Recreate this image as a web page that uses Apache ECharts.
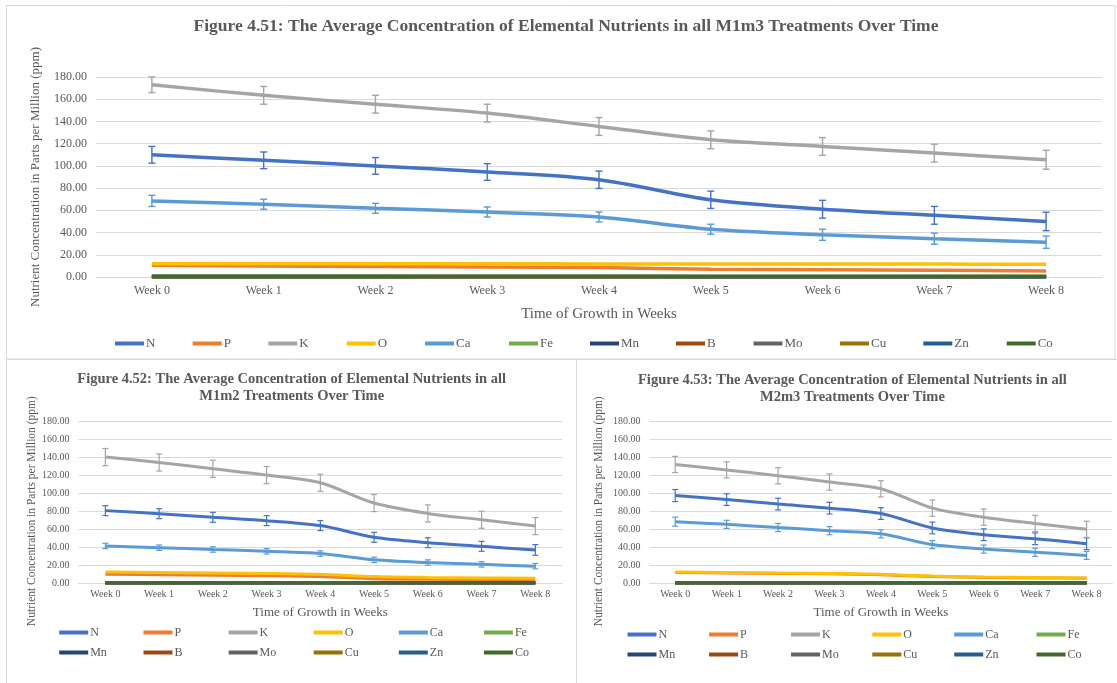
<!DOCTYPE html>
<html>
<head>
<meta charset="utf-8">
<script src="https://cdn.jsdelivr.net/npm/echarts@6/dist/echarts.min.js"></script>
<style>
html,body{margin:0;padding:0;background:#fff;}
#c{width:1117px;height:683px;}
</style>
</head>
<body>
<div id="c"></div>
<script>
// ---------- data ----------
const weeks = ['Week 0','Week 1','Week 2','Week 3','Week 4','Week 5','Week 6','Week 7','Week 8'];
const elements = ['N','P','K','O','Ca','Fe','Mn','B','Mo','Cu','Zn','Co'];
const elementColors = ['#4472C4','#ED7D31','#A5A5A5','#FFC000','#5B9BD5','#70AD47','#264478','#9E480E','#636363','#997300','#255E91','#43682B'];
const yTicks = [0,20,40,60,80,100,120,140,160,180];

// Figure 4.51 — M1m3
const m1m3N  = [110, 105, 100, 94.5, 87.5, 69.5, 61, 55.5, 50];
const m1m3P  = [10.5, 10, 9.5, 9, 8.5, 7, 6.5, 6, 5.5];
const m1m3K  = [173, 163.5, 155.5, 147.5, 135.5, 123.5, 117.5, 111.5, 105.5];
const m1m3O  = [12, 12, 12, 12, 11.8, 11.7, 11.6, 11.6, 11.5];
const m1m3Ca = [68.5, 65.5, 61.8, 58.5, 54, 43, 38, 34.5, 31.3];
const m1m3Fe = [0.6, 0.6, 0.6, 0.5, 0.5, 0.5, 0.5, 0.5, 0.5];
const m1m3Mn = [0.3, 0.3, 0.3, 0.3, 0.3, 0.2, 0.2, 0.2, 0.2];
const m1m3B  = [0.2, 0.2, 0.2, 0.2, 0.2, 0.2, 0.2, 0.2, 0.2];
const m1m3Mo = [0.1, 0.1, 0.1, 0.1, 0.1, 0.1, 0.1, 0.1, 0.1];
const m1m3Cu = [0.2, 0.2, 0.2, 0.2, 0.2, 0.2, 0.2, 0.2, 0.2];
const m1m3Zn = [0.4, 0.4, 0.4, 0.4, 0.4, 0.3, 0.3, 0.3, 0.3];
const m1m3Co = [0.6, 0.6, 0.6, 0.6, 0.6, 0.6, 0.6, 0.6, 0.6];
const m1m3ErrN  = [7.5, 7.5, 7.5, 7.5, 7.8, 7.8, 8, 8, 8.3];
const m1m3ErrK  = [7, 8, 8, 8, 8, 8, 8, 8, 8.5];
const m1m3ErrCa = [5, 4.5, 4.5, 4.5, 4.5, 4.5, 5, 5, 5.5];

// Figure 4.52 — M1m2
const m1m2N  = [80.6, 77.2, 73.2, 69.5, 64, 51, 45, 41, 37];
const m1m2P  = [10, 9.5, 9, 8.5, 7.5, 5, 4.5, 4, 3.7];
const m1m2K  = [140, 134, 127, 120, 111.5, 89, 77.5, 70.5, 63.5];
const m1m2O  = [12.5, 12, 11.5, 11, 10, 7.5, 6.5, 6, 5.5];
const m1m2Ca = [41.4, 39.5, 37.5, 35.5, 33, 26, 23, 21, 19];
const m1m2Fe = [0.5, 0.5, 0.5, 0.5, 0.5, 0.4, 0.4, 0.4, 0.4];
const m1m2Mn = [0.3, 0.3, 0.3, 0.3, 0.3, 0.2, 0.2, 0.2, 0.2];
const m1m2B  = [0.2, 0.2, 0.2, 0.2, 0.2, 0.2, 0.2, 0.2, 0.2];
const m1m2Mo = [0.1, 0.1, 0.1, 0.1, 0.1, 0.1, 0.1, 0.1, 0.1];
const m1m2Cu = [0.2, 0.2, 0.2, 0.2, 0.2, 0.2, 0.2, 0.2, 0.2];
const m1m2Zn = [0.3, 0.3, 0.3, 0.3, 0.3, 0.3, 0.3, 0.3, 0.3];
const m1m2Co = [0.5, 0.5, 0.5, 0.5, 0.5, 0.5, 0.5, 0.5, 0.5];
const m1m2ErrN  = [5.5, 5.5, 5.5, 5.5, 5.5, 5.5, 5.5, 5.5, 5.9];
const m1m2ErrK  = [9.5, 9.5, 9.5, 9.5, 9.5, 9.5, 9.5, 9.5, 9.5];
const m1m2ErrCa = [3, 3, 3, 3, 3, 3, 3, 3, 3];

// Figure 4.53 — M2m3
const m2m3N  = [97.5, 93, 88, 83.5, 77.5, 61.5, 54, 49.5, 44];
const m2m3P  = [12, 11.5, 11, 10.5, 9.5, 7.5, 6.5, 6, 5.5];
const m2m3K  = [132, 126, 119.5, 112.5, 105, 83.5, 73.5, 66.5, 60];
const m2m3O  = [12.5, 12, 11.5, 11, 10, 8, 7, 6.5, 6];
const m2m3Ca = [68.5, 65.5, 62, 58.5, 55, 43, 38, 34.5, 31];
const m2m3Fe = [0.5, 0.5, 0.5, 0.5, 0.5, 0.4, 0.4, 0.4, 0.4];
const m2m3Mn = [0.3, 0.3, 0.3, 0.3, 0.3, 0.2, 0.2, 0.2, 0.2];
const m2m3B  = [0.2, 0.2, 0.2, 0.2, 0.2, 0.2, 0.2, 0.2, 0.2];
const m2m3Mo = [0.1, 0.1, 0.1, 0.1, 0.1, 0.1, 0.1, 0.1, 0.1];
const m2m3Cu = [0.2, 0.2, 0.2, 0.2, 0.2, 0.2, 0.2, 0.2, 0.2];
const m2m3Zn = [0.3, 0.3, 0.3, 0.3, 0.3, 0.3, 0.3, 0.3, 0.3];
const m2m3Co = [0.5, 0.5, 0.5, 0.5, 0.5, 0.5, 0.5, 0.5, 0.5];
const m2m3ErrN  = [6.7, 6.5, 6.5, 6.5, 6.5, 6.5, 6.5, 6.5, 6.5];
const m2m3ErrK  = [9, 9, 9, 9, 9, 9, 9, 9, 9];
const m2m3ErrCa = [5, 4.5, 4.5, 4.5, 4.5, 4.5, 4.5, 4.5, 4.5];

// ---------- chart ----------
const FONT = '"Liberation Serif", "Times New Roman", serif';
const TXT = '#595959';
const GRIDC = '#d9d9d9';

const panels = [
  { series: [m1m3N,m1m3P,m1m3K,m1m3O,m1m3Ca,m1m3Fe,m1m3Mn,m1m3B,m1m3Mo,m1m3Cu,m1m3Zn,m1m3Co],
    errs: { N: m1m3ErrN, K: m1m3ErrK, Ca: m1m3ErrCa } },
  { series: [m1m2N,m1m2P,m1m2K,m1m2O,m1m2Ca,m1m2Fe,m1m2Mn,m1m2B,m1m2Mo,m1m2Cu,m1m2Zn,m1m2Co],
    errs: { N: m1m2ErrN, K: m1m2ErrK, Ca: m1m2ErrCa } },
  { series: [m2m3N,m2m3P,m2m3K,m2m3O,m2m3Ca,m2m3Fe,m2m3Mn,m2m3B,m2m3Mo,m2m3Cu,m2m3Zn,m2m3Co],
    errs: { N: m2m3ErrN, K: m2m3ErrK, Ca: m2m3ErrCa } }
];

function errorSeries(name, color, idx, values, errs, lw, hw) {
  return {
    type: 'custom', name: name, xAxisIndex: idx, yAxisIndex: idx,
    silent: true,
    data: values.map((v, i) => [i, v - errs[i], v + errs[i]]),
    encode: { x: 0, y: [1, 2] },
    renderItem: function (params, api) {
      const x = api.value(0);
      const lo = api.coord([x, api.value(1)]);
      const hi = api.coord([x, api.value(2)]);
      const st = { stroke: color, lineWidth: lw };
      return { type: 'group', children: [
        { type: 'line', shape: { x1: hi[0], y1: hi[1], x2: lo[0], y2: lo[1] }, style: st },
        { type: 'line', shape: { x1: hi[0]-hw, y1: hi[1], x2: hi[0]+hw, y2: hi[1] }, style: st },
        { type: 'line', shape: { x1: lo[0]-hw, y1: lo[1], x2: lo[0]+hw, y2: lo[1] }, style: st }
      ]};
    }
  };
}

const series = [];
panels.forEach((p, pi) => {
  const lw = pi === 0 ? 3.5 : 3;
  elements.forEach((el, ei) => {
    series.push({
      type: 'line', name: el, xAxisIndex: pi, yAxisIndex: pi,
      data: p.series[ei], symbol: 'none', smooth: 0.3,
      lineStyle: { width: lw, color: elementColors[ei] },
      itemStyle: { color: elementColors[ei] },
      emphasis: { disabled: true }
    });
    if (p.errs[el]) {
      series.push(errorSeries(el, elementColors[ei], pi, p.series[ei], p.errs[el], pi === 0 ? 1.4 : 1.2, pi === 0 ? 3.5 : 3));
    }
  });
});

const grids = [
  { left: 96, top: 77, width: 1006, height: 200 },
  { left: 78.5, top: 421, width: 483.7, height: 162.3 },
  { left: 649.5, top: 421.3, width: 462.8, height: 162 }
];
const small = [false, true, true];
const yNameGap = [54, 41, 45];
const xNameGap = [30, 23, 23];

const xAxes = grids.map((g, i) => ({
  type: 'category', gridIndex: i, data: weeks, boundaryGap: true,
  name: 'Time of Growth in Weeks', nameLocation: 'middle', nameGap: xNameGap[i],
  nameTextStyle: { fontFamily: FONT, fontSize: small[i] ? 13 : 15, color: TXT },
  axisLine: { lineStyle: { color: GRIDC, width: 1 } },
  axisTick: { show: false },
  axisLabel: { fontFamily: FONT, fontSize: small[i] ? 10 : 12, color: TXT, margin: small[i] ? 6 : 8, interval: 0 }
}));
const yAxes = grids.map((g, i) => ({
  type: 'value', gridIndex: i, min: yTicks[0], max: yTicks[yTicks.length-1], interval: 20,
  name: 'Nutrient Concentration in Parts per Million (ppm)', nameLocation: 'middle', nameGap: yNameGap[i],
  nameTextStyle: { fontFamily: FONT, fontSize: small[i] ? 11.5 : 13, color: TXT, padding: small[i] ? [0, 18, 0, 0] : 0 },
  axisLine: { show: false }, axisTick: { show: false },
  splitLine: { lineStyle: { color: GRIDC, width: 1 } },
  axisLabel: { fontFamily: FONT, fontSize: small[i] ? 10 : 12, color: TXT, margin: 9, formatter: v => v.toFixed(2) }
}));

// legend slot positions (layout only)
const topLegendX = [115, 192.7, 268.3, 346.7, 425, 509, 590, 676, 753.5, 840, 923.3, 1006.7];
const blLegendX = [59.2, 143.5, 228.6, 313.7, 398.8, 483.9];
const brLegendX = [627.5, 709.1, 791, 872.3, 954.2, 1036.5];

function legendItem(name, left, top, fontSize) {
  return {
    data: [name], left: left, top: top, orient: 'horizontal', padding: 0,
    itemWidth: 29, itemHeight: 4, itemGap: 0, icon: 'rect',
    textStyle: { fontFamily: FONT, color: TXT, fontSize: fontSize, padding: [0, 0, 0, -3] }
  };
}
const legends = [];
elements.forEach((el, i) => legends.push(legendItem(el, topLegendX[i], 337, 13)));
elements.forEach((el, i) => legends.push(legendItem(el, blLegendX[i % 6], i < 6 ? 626.5 : 646.5, 12)));
elements.forEach((el, i) => legends.push(legendItem(el, brLegendX[i % 6], i < 6 ? 628.5 : 648.5, 12)));

const option = {
  backgroundColor: '#fff',
  animation: false,
  title: [
    { text: 'Figure 4.51: The Average Concentration of Elemental Nutrients in all M1m3 Treatments Over Time',
      left: 566, top: 17.5, textAlign: 'center', padding: 0,
      textStyle: { fontFamily: FONT, fontSize: 17.5, fontWeight: 'bold', color: TXT } },
    { text: 'Figure 4.52: The Average Concentration of Elemental Nutrients in all\nM1m2 Treatments Over Time',
      left: 291.7, top: 371, textAlign: 'center', padding: 0,
      textStyle: { fontFamily: FONT, fontSize: 14.5, fontWeight: 'bold', color: TXT, lineHeight: 17 } },
    { text: 'Figure 4.53: The Average Concentration of Elemental Nutrients in all\nM2m3 Treatments Over Time',
      left: 852.4, top: 371.5, textAlign: 'center', padding: 0,
      textStyle: { fontFamily: FONT, fontSize: 14.5, fontWeight: 'bold', color: TXT, lineHeight: 17 } }
  ],
  legend: legends,
  grid: grids,
  xAxis: xAxes,
  yAxis: yAxes,
  series: series,
  graphic: [
    { type: 'rect', silent: true, shape: { x: 6.5, y: 5.5, width: 1108.5, height: 353.5 }, style: { fill: 'none', stroke: GRIDC, lineWidth: 1 } },
    { type: 'rect', silent: true, shape: { x: 6.5, y: 359.5, width: 570, height: 340 }, style: { fill: 'none', stroke: GRIDC, lineWidth: 1 } },
    { type: 'rect', silent: true, shape: { x: 576.5, y: 359.5, width: 560, height: 340 }, style: { fill: 'none', stroke: GRIDC, lineWidth: 1 } }
  ]
};

const chart = echarts.init(document.getElementById('c'), null, { renderer: 'canvas' });
chart.setOption(option);
</script>
</body>
</html>
